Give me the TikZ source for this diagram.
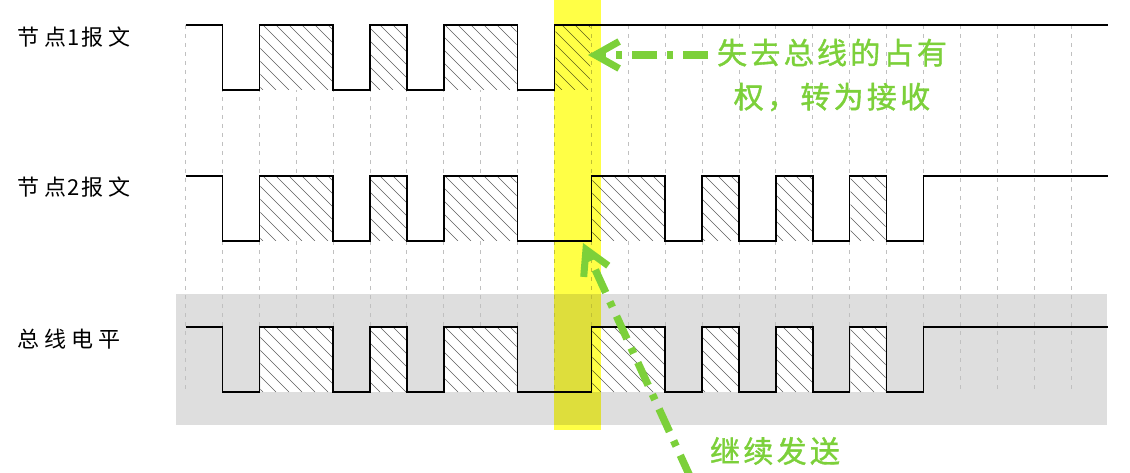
\documentclass[tikz,border=0pt]{standalone}
\usepackage{fontspec}
\newfontfamily\cjk{Noto Sans CJK SC}
\newfontfamily\cjkg[FakeBold=1.2]{Noto Sans CJK SC}
\usetikzlibrary{arrows.meta}
\definecolor{gridgray}{RGB}{192,192,192}
\definecolor{bggray}{RGB}{222,222,222}
\definecolor{hatchgray}{RGB}{95,95,95}
\definecolor{hlyellow}{RGB}{255,255,70}
\definecolor{arrowgreen}{RGB}{124,208,58}
\newcommand\X[1]{185.5+36.9*(#1)}
\newcommand\ks{\hspace{3.3pt}}
\newcommand\ls{\hspace{5pt}}
\tikzset{
  sig/.style={line width=1.5pt, black, line join=miter},
  gridline/.style={gridgray, line width=0.9pt, dash pattern=on 4pt off 5pt},
  hatchline/.style={hatchgray, line width=0.6pt},
  garrow/.style={arrowgreen, line width=7.5pt, dash pattern=on 25pt off 10pt on 6pt off 10pt,
    -{Straight Barb[length=24pt,width=27pt,line width=7pt]}},
  rowlabel/.style={font=\cjk\fontsize{22}{26}\selectfont, anchor=west, inner sep=0pt},
  glabel/.style={font=\cjkg\fontsize{30}{44}\selectfont, text=arrowgreen, inner sep=0pt, align=center},
}
\newcommand\hatchrow[3]{%
  \begin{scope}
    \clip foreach \a/\b in {#3} { ({\X{\a}+1},#1) rectangle ({\X{\b}-1},#2) };
    \fill[white] (150,#1) rectangle (1110,#2);
    \foreach \i in {0,...,80} \draw[hatchline] ({120+13*\i},#1) -- ++(65,65);
  \end{scope}}
\newcommand\sigtwo[2]{%
  \draw[sig] (0,#1) -- (1,#1) -- (1,#2) -- (2,#2) -- (2,#1) -- (4,#1) -- (4,#2) -- (5,#2)
    -- (5,#1) -- (6,#1) -- (6,#2) -- (7,#2) -- (7,#1) -- (9,#1) -- (9,#2) -- (11,#2)
    -- (11,#1) -- (13,#1) -- (13,#2) -- (14,#2) -- (14,#1) -- (15,#1) -- (15,#2) -- (16,#2)
    -- (16,#1) -- (17,#1) -- (17,#2) -- (18,#2) -- (18,#1) -- (19,#1) -- (19,#2) -- (20,#2)
    -- (20,#1) -- (25,#1);}
\begin{document}
\begin{tikzpicture}[x=1pt,y=-1pt]
\useasboundingbox (0,0) rectangle (1130,473);
\fill[white] (0,0) rectangle (1130,473);
% bus background
\fill[bggray] (176,294) rectangle (1107,425);
% grid
\foreach \k in {0,...,24} \draw[gridline] ({\X{\k}},25) -- ({\X{\k}},392);
% hatched bits
\hatchrow{25}{90}{2/4,5/6,7/9,10/11}
\hatchrow{176}{241}{2/4,5/6,7/9,11/13,14/15,16/17,18/19}
\hatchrow{327}{392}{2/4,5/6,7/9,11/13,14/15,16/17,18/19}
% signals
\begin{scope}[xshift=185.5pt, x=36.9pt]
  \draw[sig] (0,25) -- (1,25) -- (1,90) -- (2,90) -- (2,25) -- (4,25) -- (4,90) -- (5,90)
    -- (5,25) -- (6,25) -- (6,90) -- (7,90) -- (7,25) -- (9,25) -- (9,90) -- (10,90)
    -- (10,25) -- (25,25);
  \sigtwo{176}{241}
  \sigtwo{327}{392}
\end{scope}
% highlight band
\begin{scope}[blend mode=multiply]
  \fill[hlyellow] (554,0) rectangle (601,430);
\end{scope}
% labels
\node[rowlabel] (lab1) at (17,37) {节\ls 点\hspace{1.5pt}1\hspace{1.5pt}报\ls 文};
\node[rowlabel] (lab2) at (17,187) {节\ls 点\hspace{1.5pt}2\hspace{1.5pt}报\ls 文};
\node[rowlabel] (lab3) at (17,339) {总\ls 线\ls 电\ls 平};
\node[glabel] (lost) at (832,75) {失\ks 去\ks 总\ks 线\ks 的\ks 占\ks 有\\权\ks ，\ks 转\ks 为\ks 接\ks 收};
\node[glabel] (cont) at (775,451) {继\ks 续\ks 发\ks 送};
% arrows
\coordinate (tail1) at (708,55);
\coordinate (tip1) at (588,55);
\coordinate (tail2) at (690.7,478);
\coordinate (tip2) at (583,243);
\draw[garrow] (tail1) -- (tip1);
\begin{scope}
  \clip (0,0) rectangle (1130,473);
  \draw[garrow] (tail2) -- (tip2);
\end{scope}
\end{tikzpicture}
\end{document}
